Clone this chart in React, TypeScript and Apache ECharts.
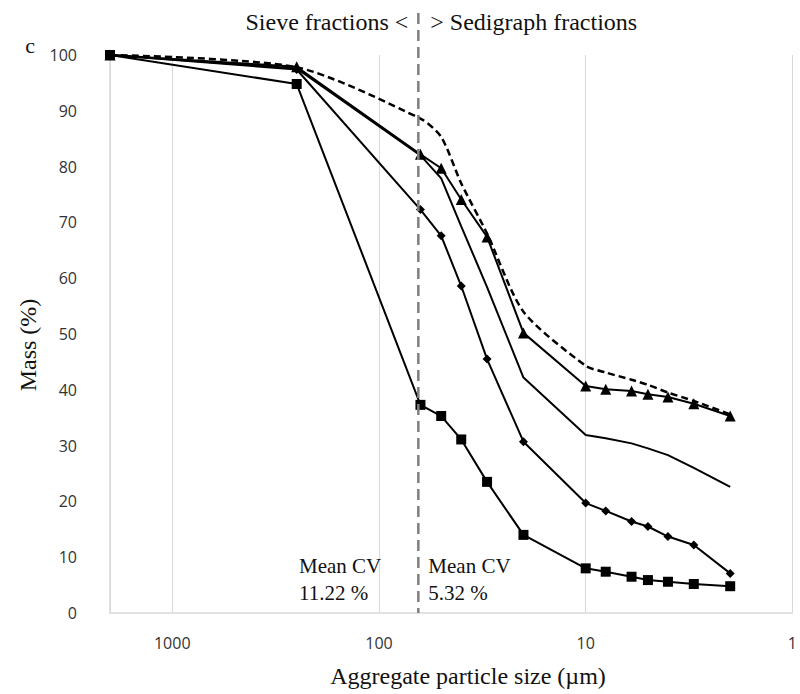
import React, { useEffect, useRef } from "react";
import * as echarts from "echarts";

// Particle sizes (µm) at which the curves are sampled
const sizes = [2000, 250, 63, 50, 40, 30, 20, 10, 8, 6, 5, 4, 3, 2];

// Cumulative mass (%) for each curve
const squareSeries = [100, 94.8, 37.3, 35.3, 31.1, 23.5, 14.0, 8.0, 7.4, 6.5, 5.9, 5.6, 5.2, 4.8];
const diamondSeries = [100, 97.4, 72.3, 67.6, 58.6, 45.5, 30.7, 19.7, 18.3, 16.4, 15.5, 13.7, 12.2, 7.1];
const triangleSeries = [100, 97.9, 82.2, 79.7, 74.1, 67.4, 50.2, 40.7, 40.1, 39.8, 39.2, 38.7, 37.5, 35.3];
const plainSeries = [100, 97.6, 82.0, 77.9, 69.3, 58.4, 42.2, 31.9, 31.3, 30.4, 29.5, 28.3, 26.0, 22.6];
const dashedSeries = [100, 97.8, 88.6, 85.3, 77.0, 68.0, 54.0, 44.3, 43.1, 41.8, 40.9, 39.5, 38.0, 35.6];

// Axis ticks
const xTickLabels = [1000, 100, 10, 1];
const xMin = 1;
const xMax = 2000;
const yMin = 0;
const yMax = 100;
const yInterval = 10;

// Boundary between sieve and sedigraph fractions (µm)
const sieveCut = 64.5;

// Annotation texts
const titleLeft = "Sieve fractions <";
const titleRight = "> Sedigraph fractions";
const panelLabel = "c";
const xAxisTitle = "Aggregate particle size (µm)";
const yAxisTitle = "Mass (%)";
const cvSieve = ["Mean CV", "11.22 %"];
const cvSedi = ["Mean CV", "5.32 %"];

const SERIF = "Liberation Serif";
const SANS = "Open Sans";

export default function App() {
  const ref = useRef<HTMLDivElement>(null);

  useEffect(() => {
    const chart = echarts.init(ref.current!, null, { renderer: "svg" });
    const pairs = (vals: number[]) => sizes.map((s, i) => [s, vals[i]]);
    const lineBase = {
      type: "line",
      lineStyle: { color: "#000", width: 2 },
      itemStyle: { color: "#000" },
      emphasis: { disabled: true },
    };

    chart.setOption({
      animation: false,
      grid: { left: 110, right: 5, top: 55, bottom: 81, containLabel: false },
      xAxis: {
        type: "log",
        logBase: 10,
        min: xMin,
        max: xMax,
        inverse: true,
        axisLine: { show: true, lineStyle: { color: "#d9d9d9", width: 1.5 } },
        axisTick: { show: false },
        splitLine: { show: true, lineStyle: { color: "#d9d9d9", width: 1 } },
        axisLabel: {
          margin: 22,
          fontFamily: SANS,
          fontSize: 16,
          color: "#333",
          formatter: (v: number) => {
            const r = Math.round(v);
            return xTickLabels.includes(r) && Math.abs(v - r) < 1e-6 * Math.max(1, r) + 1e-6 ? String(r) : "";
          },
        },
      },
      yAxis: {
        type: "value",
        min: yMin,
        max: yMax,
        interval: yInterval,
        axisLine: { show: true, lineStyle: { color: "#d9d9d9", width: 1.5 } },
        axisTick: { show: false },
        splitLine: { show: false },
        axisLabel: { margin: 33, fontFamily: SANS, fontSize: 16, color: "#333" },
      },
      series: [
        {
          ...lineBase,
          name: "dashed",
          data: pairs(dashedSeries),
          symbol: "none",
          smooth: 0.25,
          lineStyle: { color: "#000", width: 2.5, type: [7, 4] },
          z: 2,
        },
        { ...lineBase, name: "plain", data: pairs(plainSeries), symbol: "none", z: 3 },
        { ...lineBase, name: "triangles", data: pairs(triangleSeries), symbol: "triangle", symbolSize: 11, z: 4 },
        { ...lineBase, name: "diamonds", data: pairs(diamondSeries), symbol: "diamond", symbolSize: 9, z: 5 },
        { ...lineBase, name: "squares", data: pairs(squareSeries), symbol: "rect", symbolSize: 10, z: 6 },
      ],
    });

    const cutX = chart.convertToPixel({ xAxisIndex: 0 }, sieveCut) as number;
    const bottomY = chart.convertToPixel({ yAxisIndex: 0 }, yMin) as number;

    const txt = (text: string, x: number, y: number, size: number, align = "left", extra: any = {}) => ({
      type: "text",
      x,
      y,
      style: {
        text,
        fontFamily: SERIF,
        fontSize: size,
        fill: "#111",
        textAlign: align,
        textVerticalAlign: "middle",
      },
      ...extra,
    });

    chart.setOption({
      graphic: [
        {
          type: "line",
          shape: { x1: cutX, y1: 13, x2: cutX, y2: bottomY },
          style: { stroke: "#7f7f7f", lineWidth: 2.5, lineDash: [11, 6] },
          z: 10,
        },
        txt(titleLeft, cutX - 10, 22, 24, "right"),
        txt(titleRight, cutX + 12, 22, 24, "left"),
        txt(panelLabel, 30, 45, 22, "center"),
        txt(xAxisTitle, 468, 676, 24, "center"),
        txt(yAxisTitle, 28, 345, 24, "center", { rotation: Math.PI / 2 }),
        txt(cvSieve[0], 299, 566, 21, "left"),
        txt(cvSieve[1], 299, 593, 21, "left"),
        txt(cvSedi[0], cutX + 10, 566, 21, "left"),
        txt(cvSedi[1], cutX + 10, 593, 21, "left"),
      ],
    });

    return () => chart.dispose();
  }, []);

  return (
    <div
      ref={ref}
      style={{ position: "fixed", left: 0, top: 0, width: 800, height: 694, background: "#fff" }}
    />
  );
}
